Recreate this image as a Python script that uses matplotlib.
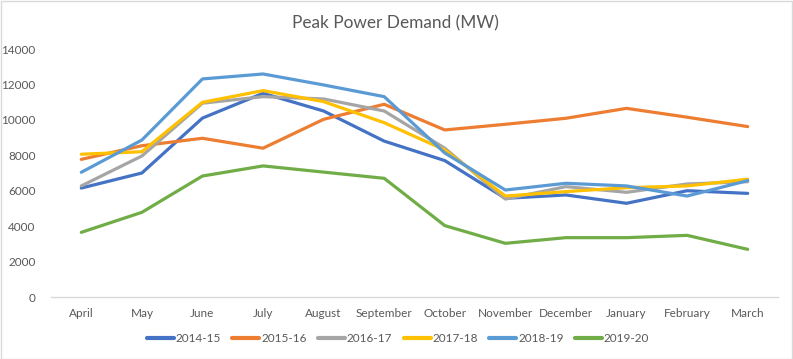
import matplotlib
matplotlib.use("Agg")
import matplotlib.pyplot as plt
from matplotlib.patches import Rectangle

months = ["April", "May", "June", "July", "August", "September", "October",
          "November", "December", "January", "February", "March"]
series_names = ["2014-15", "2015-16", "2016-17", "2017-18", "2018-19", "2019-20"]

s2014_15 = [6150, 7000, 10100, 11500, 10500, 8800, 7700, 5570, 5760, 5290, 6000, 5850]
s2015_16 = [7770, 8540, 8960, 8400, 10030, 10880, 9430, 9750, 10090, 10650, 10150, 9620]
s2016_17 = [6270, 7960, 10940, 11310, 11180, 10500, 8400, 5530, 6230, 5910, 6380, 6510]
s2017_18 = [8060, 8200, 10990, 11650, 11030, 9840, 8300, 5700, 5950, 6170, 6270, 6650]
s2018_19 = [7040, 8860, 12310, 12590, 11970, 11310, 8130, 6040, 6420, 6270, 5700, 6570]
s2019_20 = [3650, 4780, 6830, 7400, 7050, 6700, 4030, 3030, 3350, 3350, 3480, 2690]

all_series = [s2014_15, s2015_16, s2016_17, s2017_18, s2018_19, s2019_20]
colors = ["#4472C4", "#ED7D31", "#A5A5A5", "#FFC000", "#5B9BD5", "#70AD47"]

plt.rcParams['font.family'] = ['Lato', 'DejaVu Sans']

W, H = 793, 359
fig = plt.figure(figsize=(W / 100, H / 100), dpi=100)
ax = fig.add_axes([51 / W, 1 - 297 / H, (778 - 51) / W, (297 - 49) / H])

x = list(range(len(months)))
for name, vals, c in zip(series_names, all_series, colors):
    ax.plot(x, vals, color=c, lw=2.3, label=name, solid_capstyle='round', solid_joinstyle='round')

ax.set_xlim(-0.5, len(months) - 0.5)
ax.set_ylim(0, 14000)
ax.set_yticks(range(0, 14001, 2000))
ax.set_xticks(x)
ax.set_xticklabels(months)
ax.tick_params(axis='both', length=0, colors='#595959', labelsize=8.5)
ax.tick_params(axis='y', pad=11)
ax.tick_params(axis='x', pad=8)
for sp in ['top', 'right', 'left']:
    ax.spines[sp].set_visible(False)
ax.spines['bottom'].set_color('#D9D9D9')
ax.spines['bottom'].set_linewidth(1)

fig.text(395 / W, 1 - 23 / H, "Peak Power Demand (MW)", ha='center', va='center',
         fontsize=12.4, color='#595959')

leg = fig.legend(loc='center', bbox_to_anchor=(398 / W, 1 - 339 / H), ncol=6,
                 frameon=False, fontsize=8.5, handlelength=2.3, handletextpad=0.15,
                 columnspacing=0.95)
for t in leg.get_texts():
    t.set_color('#595959')
for l in leg.get_lines():
    l.set_linewidth(3)

fig.patches.append(Rectangle((0.5 / W, 0.5 / H), 1 - 1.5 / W, 1 - 1.5 / H,
                             transform=fig.transFigure, fill=False,
                             edgecolor='#D9D9D9', lw=1))

fig.savefig("out.png", dpi=100)
